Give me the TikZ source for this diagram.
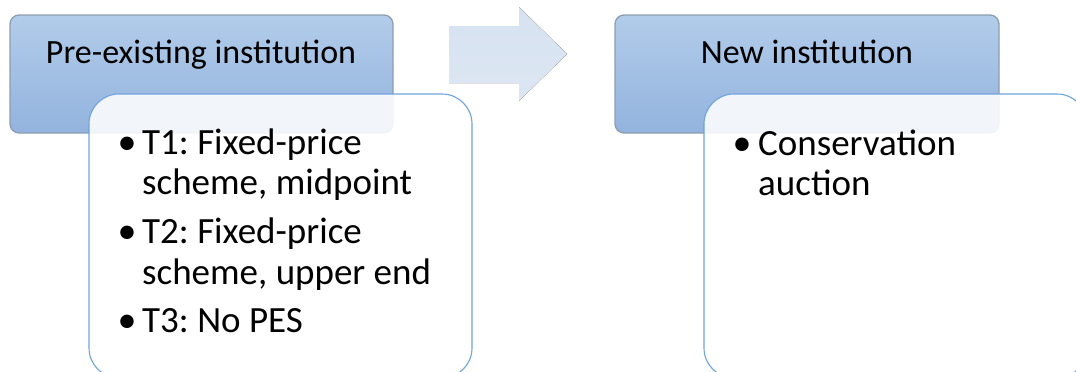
\documentclass[tikz,border=0pt]{standalone}
\usepackage{fontspec}
\setmainfont{Carlito}
\frenchspacing
\begin{document}
\begin{tikzpicture}[x=1pt,y=-1pt,
  hdrbox/.style={draw=hdrline,line width=1.3pt,rounded corners=9pt,top color=hdrtop,bottom color=hdrbot},
  contbox/.style={draw=contline,line width=1.1pt,rounded corners=30pt,fill=white,fill opacity=0.88},
  hdrtext/.style={inner sep=0pt,anchor=base,font=\fontsize{34}{40}\selectfont\frenchspacing},
  itemtext/.style={inner sep=0pt,anchor=base west,font=\fontsize{37}{40}\selectfont\frenchspacing},
  bul/.style={inner sep=0pt,anchor=base,font=\fontsize{38}{40}\selectfont},
  arrowshape/.style={top color=arrtop,bottom color=arrbot,draw=none}]
\definecolor{hdrline}{HTML}{8E9DB0}
\definecolor{hdrtop}{HTML}{B2CCEA}
\definecolor{hdrbot}{HTML}{93B3DE}
\definecolor{contline}{HTML}{6FA3DC}
\definecolor{arrtop}{HTML}{D7E2F1}
\definecolor{arrbot}{HTML}{DCE6F3}
\useasboundingbox (0,0) rectangle (1076,372);
\clip (0,0) rectangle (1076,372);
% left group
\draw[hdrbox] (10,15) rectangle (393,133);
\node[hdrtext] (h1) at (201,63) {Pre-existing institution};
\draw[contbox] (89,94) rectangle (472,378);
\node[bul] (b1) at (127,154) {•};
\node[itemtext] (l1a) at (142,154) {T1: Fixed-price};
\node[itemtext] (l1b) at (142,194) {scheme, midpoint};
\node[bul] (b2) at (127,243) {•};
\node[itemtext] (l2a) at (142,243) {T2: Fixed-price};
\node[itemtext] (l2b) at (142,284) {scheme, upper end};
\node[bul] (b3) at (127,332) {•};
\node[itemtext] (l3) at (142,332) {T3: No PES};
% arrow
\fill[arrowshape] (449,26) -- (519,26) -- (519,7) -- (567,54) -- (519,101) -- (519,83) -- (449,83) -- cycle;
% right group
\draw[hdrbox] (615,15) rectangle (999,133);
\node[hdrtext] (h2) at (807,63) {New institution};
\draw[contbox] (704,94) rectangle (1087,378);
\node[bul] (b4) at (742,155) {•};
\node[itemtext] (r1a) at (758,155) {Conservation};
\node[itemtext] (r1b) at (758,195) {auction};
\end{tikzpicture}
\end{document}
